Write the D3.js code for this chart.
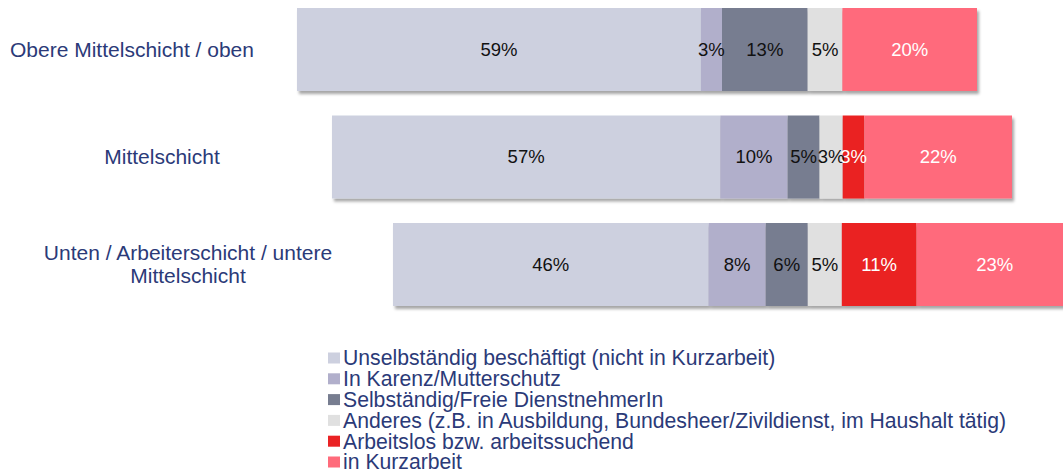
<!DOCTYPE html>
<html>
<head>
<meta charset="utf-8">
<script src="https://cdn.jsdelivr.net/npm/d3@7"></script>
<style>
  body { margin: 0; background: #fff; }
  svg { display: block; font-family: "Liberation Sans", Arial, sans-serif; }
</style>
</head>
<body>
<svg id="chart" width="1063" height="474"></svg>
<script>
// data
const groups = ['Obere Mittelschicht / oben', 'Mittelschicht', 'Unten / Arbeiterschicht / untere Mittelschicht'];
const seriesNames = [
  'Unselbständig beschäftigt (nicht in Kurzarbeit)',
  'In Karenz/Mutterschutz',
  'Selbständig/Freie DienstnehmerIn',
  'Anderes (z.B. in Ausbildung, Bundesheer/Zivildienst, im Haushalt tätig)',
  'Arbeitslos bzw. arbeitssuchend',
  'in Kurzarbeit'
];
// one array per group, in series order
const obereValues = [59.4, 3.1, 12.6, 5.1, 0, 19.8];
const mitteValues = [57.1, 9.9, 4.7, 3.4, 3.2, 21.7];
const untenValues = [46.4, 8.4, 6.2, 5.0, 11.0, 23.0];

const seriesColors = ['#CDD0DF', '#B1AFCB', '#777D90', '#E0E0E0', '#EA2224', '#FF6B7B'];
const labelColors = ['#111', '#111', '#111', '#111', '#fff', '#fff'];

// layout
const rowStart = [297, 332, 393];
const groupLabelX = [132, 162, 188];
const textColor = '#2B3A78';

const svg = d3.select('#chart');

const defs = svg.append('defs');
defs.append('filter')
  .attr('id', 'shadow')
  .attr('x', '-5%').attr('y', '-10%')
  .attr('width', '110%').attr('height', '130%')
  .append('feDropShadow')
  .attr('dx', 2).attr('dy', 3)
  .attr('stdDeviation', 1.5)
  .attr('flood-color', '#000')
  .attr('flood-opacity', 0.35);

const x = d3.scaleLinear().domain([0, 100]).range([0, 680]);
const y = d3.scaleBand().domain(groups).range([8, 306]).paddingInner(0.228).paddingOuter(0);

const allValues = [obereValues, mitteValues, untenValues];

groups.forEach((g, gi) => {
  const vals = allValues[gi];
  const row = svg.append('g')
    .attr('transform', `translate(${rowStart[gi]},${y(g)})`);

  let acc = 0;
  const segs = vals.map((v, i) => {
    const s = { v, i, x0: acc };
    acc += v;
    return s;
  }).filter((s) => s.v > 0);

  const bar = row.append('g').attr('filter', 'url(#shadow)');
  bar.selectAll('rect')
    .data(segs)
    .enter()
    .append('rect')
    .attr('x', (d) => x(d.x0))
    .attr('y', 0)
    .attr('width', (d) => x(d.x0 + d.v) - x(d.x0))
    .attr('height', y.bandwidth())
    .attr('fill', (d) => seriesColors[d.i]);

  row.selectAll('text.val')
    .data(segs)
    .enter()
    .append('text')
    .attr('class', 'val')
    .attr('x', (d) => x(d.x0 + d.v / 2))
    .attr('y', y.bandwidth() / 2)
    .attr('dy', '0.35em')
    .attr('text-anchor', 'middle')
    .attr('font-size', 18.5)
    .attr('fill', (d) => labelColors[d.i])
    .text((d) => `${Math.round(d.v)}%`);
});

// group labels
const lab = svg.append('g');
lab.append('text')
  .attr('x', groupLabelX[0]).attr('y', y(groups[0]) + y.bandwidth() / 2)
  .attr('dy', '0.35em')
  .attr('text-anchor', 'middle').attr('font-size', 21).attr('fill', textColor)
  .text(groups[0]);
lab.append('text')
  .attr('x', groupLabelX[1]).attr('y', y(groups[1]) + y.bandwidth() / 2)
  .attr('dy', '0.35em')
  .attr('text-anchor', 'middle').attr('font-size', 21).attr('fill', textColor)
  .text(groups[1]);
const t3 = lab.append('text')
  .attr('text-anchor', 'middle').attr('font-size', 21).attr('fill', textColor);
t3.append('tspan')
  .attr('x', groupLabelX[2]).attr('y', y(groups[2]) + y.bandwidth() / 2 - 11.5)
  .attr('dy', '0.35em')
  .text('Unten / Arbeiterschicht / untere');
t3.append('tspan')
  .attr('x', groupLabelX[2]).attr('y', y(groups[2]) + y.bandwidth() / 2 + 11.5)
  .attr('dy', '0.35em')
  .text('Mittelschicht');

// legend
const legend = svg.append('g').attr('transform', 'translate(328,358)');
const items = legend.selectAll('g')
  .data(seriesNames)
  .enter()
  .append('g')
  .attr('transform', (d, i) => `translate(0,${i * 20.8})`);
items.append('rect')
  .attr('x', 0).attr('y', -5.5)
  .attr('width', 12).attr('height', 11)
  .attr('fill', (d, i) => seriesColors[i]);
items.append('text')
  .attr('x', 15).attr('y', 0)
  .attr('dy', '0.35em')
  .attr('font-size', 21.2)
  .attr('fill', textColor)
  .text((d) => d);
</script>
</body>
</html>
